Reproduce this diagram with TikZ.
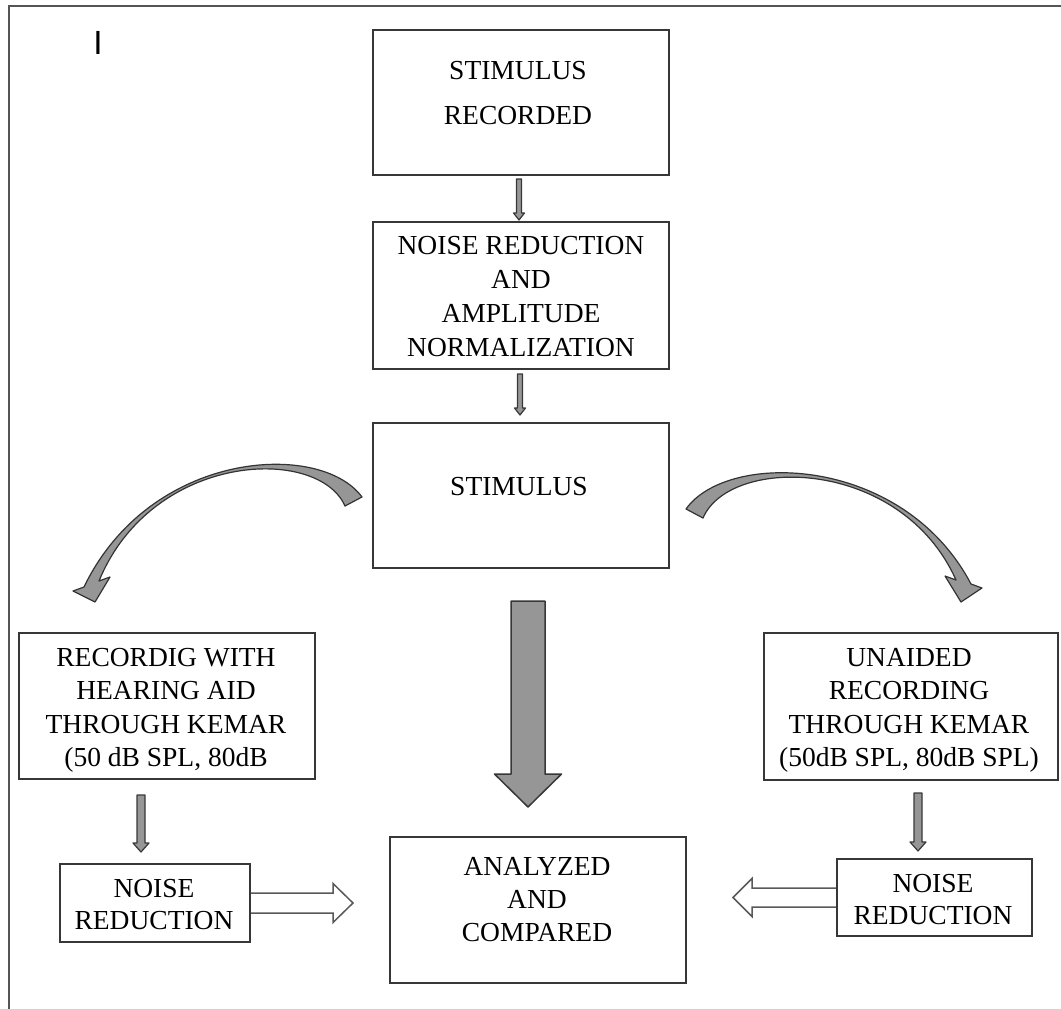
\documentclass[tikz,border=0pt]{standalone}
\usepackage{fontspec}
\setmainfont{Liberation Serif}
\newfontfamily\sansI{Liberation Sans}
\usetikzlibrary{calc}
\definecolor{arrowgray}{RGB}{150,150,150}
\definecolor{edgegray}{RGB}{55,55,55}
\definecolor{framegray}{RGB}{85,85,85}
\newcommand\vblock[6]{%
  \draw[#1] let \p1=(#2), \p2=(#3) in
   (\x1-#4pt,\y1) -- (\x1+#4pt,\y1) -- (\x1+#4pt,\y2+#6pt) -- (\x1+#5pt,\y2+#6pt)
   -- (\x1,\y2) -- (\x1-#5pt,\y2+#6pt) -- (\x1-#4pt,\y2+#6pt) -- cycle;}
\begin{document}
\begin{tikzpicture}[x=1pt,y=-1pt,
  box/.style={draw=edgegray, line width=1.6pt, fill=white, inner sep=0pt},
  txt/.style={align=center, inner sep=0pt, anchor=base},
  fsize/.style={font=\fontsize{27.5}{#1}\selectfont},
  smallarr/.style={draw=edgegray, fill=arrowgray, line width=1.2pt, line join=round},
  bigarr/.style={draw=edgegray, fill=arrowgray, line width=1.5pt, line join=round},
  hollow/.style={draw=black!65, fill=white, line width=1.5pt, line join=miter},
  curvarrow/.style={draw=black!80, fill=arrowgray, line width=1.2pt, line join=round}]
\useasboundingbox (0,0) rectangle (1061,1009);
% frame
\draw[framegray, line width=1.8pt] (1061,6) -- (9,6) -- (9,1009);
\node[font=\sansI\fontsize{33.5}{40}\selectfont, inner sep=0pt, anchor=base] (mark) at (98,54) {I};

% boxes
\node[box, minimum width=296, minimum height=145] (b1) at (521,102.5) {};
\node[box, minimum width=296, minimum height=147] (b2) at (521,295.5) {};
\node[box, minimum width=296, minimum height=145] (b3) at (521,495.5) {};
\node[box, minimum width=296, minimum height=146] (bl) at (167,706) {};
\node[box, minimum width=294, minimum height=147] (br) at (911,706.5) {};
\node[box, minimum width=296, minimum height=146] (an) at (538,910) {};

% hollow arrows (drawn before their source boxes)
\coordinate (hl1) at (250,903);
\coordinate (hl2) at (353,903);
\draw[hollow] let \p1=(hl1), \p2=(hl2) in
  (\x1,\y1+10pt) -- (\x2-20pt,\y1+10pt) -- (\x2-20pt,\y1+19.5pt) -- (\x2,\y1)
  -- (\x2-20pt,\y1-19.5pt) -- (\x2-20pt,\y1-10pt) -- (\x1,\y1-10pt);
\coordinate (hr1) at (837,897.5);
\coordinate (hr2) at (733,897.5);
\draw[hollow] let \p1=(hr1), \p2=(hr2) in
  (\x1,\y1+9.5pt) -- (\x2+19pt,\y1+9.5pt) -- (\x2+19pt,\y1+19pt) -- (\x2,\y1)
  -- (\x2+19pt,\y1-19pt) -- (\x2+19pt,\y1-9.5pt) -- (\x1,\y1-9.5pt);

\node[box, minimum width=190, minimum height=78] (nl) at (155,903) {};
\node[box, minimum width=195, minimum height=77] (nr) at (934.5,897.5) {};

% texts (anchor base = baseline of the last line)
\node[txt, fsize=45] (b1t) at (518,124) {STIMULUS\\RECORDED};
\node[txt, fsize=33.7] (b2t) at (521,356) {NOISE REDUCTION\\AND\\AMPLITUDE\\NORMALIZATION};
\node[txt, fsize=33.5] (b3t) at (519,495) {STIMULUS};
\node[txt, fsize=33.5] (blt) at (166,766.5) {RECORDIG WITH\\HEARING AID\\THROUGH KEMAR\\(50 dB SPL, 80dB};
\node[txt, fsize=33.5] (brt) at (909,766.5) {UNAIDED\\RECORDING\\THROUGH KEMAR\\(50dB SPL, 80dB SPL)};
\node[txt, fsize=32] (nlt) at (154,929) {NOISE\\REDUCTION};
\node[txt, fsize=32] (nrt) at (933,924) {NOISE\\REDUCTION};
\node[txt, fsize=33] (ant) at (537,941) {ANALYZED\\AND\\COMPARED};

% straight block arrows
\coordinate (s12a) at (519,179); \coordinate (s12b) at (519,220);
\coordinate (s23a) at (520,374); \coordinate (s23b) at (520,415);
\coordinate (sla) at (141,795);  \coordinate (slb) at (141,852);
\coordinate (sra) at (918,793);  \coordinate (srb) at (918,851);
\coordinate (ca) at (528,601);   \coordinate (cb) at (528,807);
\vblock{smallarr}{s12a}{s12b}{2.5}{5.5}{7}
\vblock{smallarr}{s23a}{s23b}{2.5}{5.5}{7}
\vblock{smallarr}{sla}{slb}{4}{8}{9}
\vblock{smallarr}{sra}{srb}{4}{8}{9}
\vblock{bigarr}{ca}{cb}{17}{33.5}{33}

% curved arrows
\draw[curvarrow] (362,497) .. controls (320,440) and (150,450) .. (84,587)
  -- (73,591) -- (95,602) -- (110,577) -- (99,581)
  .. controls (152,452) and (318,445) .. (345,506) -- cycle;
\draw[curvarrow] (686,509) .. controls (728,450) and (903,455) .. (971,584)
  -- (982,588) -- (961,602) -- (945,576) -- (956,580)
  .. controls (901,457) and (730,455) .. (703,518) -- cycle;
\end{tikzpicture}
\end{document}
